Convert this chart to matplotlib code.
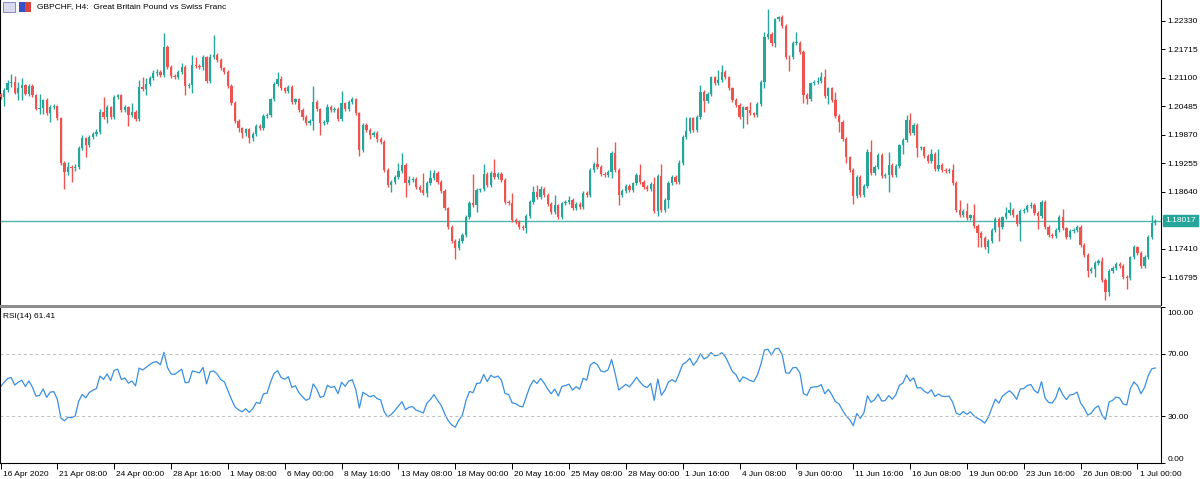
import numpy as np
import matplotlib
matplotlib.use("Agg")
import matplotlib.pyplot as plt
from matplotlib.patches import Rectangle
import matplotlib.transforms as mtransforms

# ---------------- data (GBPCHF H4) ----------------
first_open = 1.2074
closes = [
    1.20675, 1.20833, 1.20977, 1.21013, 1.20776, 1.20869, 1.20934, 1.20747, 1.20920, 1.20726,
    1.20417, 1.20438, 1.20618, 1.20330, 1.20474, 1.20489, 1.20222, 1.19266, 1.19072, 1.19166,
    1.19144, 1.19180, 1.19575, 1.19791, 1.19647, 1.19813, 1.19885, 1.19935, 1.20359, 1.20258,
    1.20460, 1.20258, 1.20675, 1.20718, 1.20402, 1.20460, 1.20294, 1.20366, 1.20215, 1.20905,
    1.20848, 1.20963, 1.21092, 1.21193, 1.21222, 1.21150, 1.21755, 1.21337, 1.21136, 1.21121,
    1.21229, 1.21337, 1.20920, 1.20941, 1.21381, 1.21352, 1.21323, 1.21539, 1.21035, 1.21553,
    1.21582, 1.21482, 1.21301, 1.21229, 1.20920, 1.20560, 1.20172, 1.20007, 1.19899, 1.19985,
    1.19791, 1.19885, 1.20057, 1.20007, 1.20273, 1.20294, 1.20632, 1.20963, 1.21071, 1.20869,
    1.20819, 1.20905, 1.20582, 1.20632, 1.20402, 1.20258, 1.20129, 1.20172, 1.20582, 1.20417,
    1.20114, 1.20150, 1.20474, 1.20402, 1.20431, 1.20201, 1.20546, 1.20417, 1.20582, 1.20632,
    1.20330, 1.19539, 1.20078, 1.19971, 1.19863, 1.19913, 1.19770, 1.19719, 1.19108, 1.18784,
    1.18856, 1.18964, 1.19094, 1.19216, 1.18820, 1.18892, 1.18907, 1.18734, 1.18676, 1.18605,
    1.18835, 1.18928, 1.19051, 1.18856, 1.18662, 1.18280, 1.17885, 1.17583, 1.17417, 1.17583,
    1.17705, 1.18100, 1.18402, 1.18352, 1.18676, 1.18690, 1.19021, 1.18784, 1.19036, 1.18964,
    1.19021, 1.18892, 1.18424, 1.18388, 1.18028, 1.17992, 1.17885, 1.17849, 1.18115, 1.18424,
    1.18633, 1.18532, 1.18705, 1.18569, 1.18374, 1.18208, 1.18345, 1.18100, 1.18388, 1.18417,
    1.18460, 1.18280, 1.18374, 1.18302, 1.18619, 1.18569, 1.19108, 1.19238, 1.19180, 1.19021,
    1.19000, 1.19072, 1.19468, 1.19108, 1.18569, 1.18662, 1.18763, 1.18676, 1.18820, 1.19000,
    1.18856, 1.18734, 1.18690, 1.18806, 1.18230, 1.18978, 1.18244, 1.18460, 1.18835, 1.18950,
    1.18856, 1.19266, 1.19813, 1.19957, 1.20222, 1.19971, 1.20258, 1.20798, 1.20604, 1.20747,
    1.21107, 1.20992, 1.21049, 1.21222, 1.21107, 1.20869, 1.20618, 1.20510, 1.20244, 1.20460,
    1.20402, 1.20330, 1.20294, 1.20532, 1.21013, 1.21971, 1.22043, 1.21856, 1.22359, 1.22402,
    1.22215, 1.21553, 1.21539, 1.21842, 1.21856, 1.21661, 1.20726, 1.20632, 1.20977, 1.21013,
    1.21020, 1.21107, 1.20704, 1.20869, 1.20618, 1.20273, 1.20150, 1.19770, 1.19381, 1.19108,
    1.18547, 1.18964, 1.18569, 1.18763, 1.19496, 1.19051, 1.19166, 1.19432, 1.18978, 1.19000,
    1.19216, 1.19000, 1.19195, 1.19640, 1.19755, 1.20186, 1.19899, 1.20078, 1.19575, 1.19597,
    1.19410, 1.19309, 1.19453, 1.19122, 1.19216, 1.19108, 1.19094, 1.19108, 1.18835, 1.18244,
    1.18136, 1.18230, 1.18064, 1.18129, 1.17900, 1.17756, 1.17641, 1.17454, 1.17583, 1.17813,
    1.18057, 1.17885, 1.18086, 1.18172, 1.18244, 1.18129, 1.17942, 1.18230, 1.18244, 1.18331,
    1.18359, 1.18187, 1.18115, 1.18417, 1.17885, 1.17705, 1.17683, 1.17813, 1.18100, 1.17849,
    1.17669, 1.17798, 1.17813, 1.17871, 1.17490, 1.17274, 1.16936, 1.16979, 1.17094, 1.17151,
    1.16734, 1.16482, 1.16936, 1.16986, 1.17080, 1.17036, 1.16806, 1.16770, 1.17223, 1.17439,
    1.17324, 1.17036, 1.17237, 1.17655, 1.17971, 1.18017,
]
# wick lengths beyond the candle body, in pips (0.0001)
wick_up_pips = [
    2, 4, 7, 17, 12, 14, 15, 4, 5, 4,   2, 30, 2, 4, 4, 5, 3, 3, 3, 12,
    5, 5, 5, 7, 4, 4, 4, 5, 6, 33,      5, 4, 5, 4, 4, 5, 4, 18, 4, 14,
    20, 14, 5, 7, 6, 4, 30, 5, 4, 4,    4, 7, 4, 4, 21, 17, 4, 6, 4, 5,
    44, 6, 5, 4, 4, 4, 4, 4, 4, 4,      4, 5, 4, 4, 4, 4, 4, 4, 16, 7,
    4, 4, 4, 4, 4, 4, 4, 4, 34, 4,      4, 4, 5, 4, 4, 4, 27, 4, 4, 6,
    4, 4, 4, 4, 5, 4, 4, 4, 4, 4,       4, 4, 16, 27, 4, 9, 5, 4, 5, 36,
    4, 17, 5, 4, 4, 4, 4, 4, 4, 5,      4, 4, 4, 63, 4, 4, 21, 4, 5, 30,
    4, 4, 4, 4, 23, 4, 4, 4, 4, 4,      12, 15, 5, 4, 4, 4, 22, 4, 4, 4,
    9, 4, 4, 4, 4, 4, 4, 4, 37, 4,      4, 4, 4, 25, 4, 4, 4, 4, 4, 4,
    23, 4, 4, 4, 16, 4, 26, 4, 4, 4,   4, 6, 4, 29, 4, 4, 4, 14, 4, 4,
    4, 4, 22, 15, 4, 4, 4, 4, 4, 4,     4, 18, 4, 4, 4, 12, 55, 4, 4, 4,
    5, 4, 4, 4, 24, 4, 4, 4, 4, 4,      9, 12, 19, 4, 4, 18, 4, 4, 4, 4,
    4, 4, 4, 4, 6, 27, 4, 4, 4, 4,      29, 4, 4, 4, 4, 11, 16, 4, 4, 4,
    4, 4, 10, 4, 34, 4, 4, 4, 13, 4,    22, 4, 16, 4, 24, 4, 4, 4, 4, 4,
    4, 4, 4, 14, 18, 4, 4, 4, 4, 4,     6, 4, 4, 4, 4, 4, 4, 4, 4, 16,
    4, 4, 4, 4, 4, 4, 4, 4, 4, 4,       9, 4, 4, 4, 4, 4, 4, 4, 4, 5,
    4, 4, 4, 4, 17, 4,
]
wick_dn_pips = [
    4, 19, 4, 7, 3, 16, 25, 2, 5, 5,    2, 9, 12, 3, 18, 5, 4, 4, 38, 7,
    29, 5, 6, 3, 25, 4, 4, 5, 4, 4,     13, 4, 4, 4, 5, 5, 24, 5, 4, 4,
    4, 12, 5, 5, 5, 4, 4, 5, 5, 4,      4, 4, 19, 4, 18, 5, 4, 5, 5, 5,
    4, 4, 4, 4, 5, 5, 6, 8, 10, 6,      10, 5, 4, 4, 4, 4, 4, 4, 4, 4,
    5, 4, 4, 5, 4, 6, 4, 4, 20, 4,      25, 4, 4, 4, 4, 4, 4, 4, 4, 4,
    4, 12, 4, 4, 8, 4, 6, 4, 5, 5,      14, 4, 4, 4, 30, 4, 4, 4, 4, 4,
    9, 4, 4, 4, 4, 4, 4, 4, 22, 4,      4, 4, 4, 4, 14, 4, 4, 4, 4, 4,
    4, 4, 4, 4, 4, 4, 4, 4, 11, 4,      4, 4, 4, 4, 4, 4, 4, 4, 4, 4,
    4, 4, 4, 4, 4, 4, 4, 4, 4, 4,       4, 4, 14, 4, 22, 4, 4, 4, 4, 4,
    4, 4, 4, 4, 4, 12, 4, 4, 18, 4,     4, 4, 4, 4, 4, 4, 4, 4, 24, 4,
    4, 4, 4, 4, 4, 4, 4, 4, 4, 24,      30, 4, 4, 4, 4, 14, 4, 7, 9, 4,
    4, 4, 29, 4, 4, 4, 18, 10, 4, 4,    4, 4, 4, 17, 4, 4, 22, 4, 13, 4,
    17, 4, 4, 4, 4, 4, 4, 4, 4, 4,      36, 4, 4, 4, 19, 4, 4, 4, 18, 4,
    4, 4, 4, 4, 4, 4, 4, 4, 4, 4,       4, 4, 4, 4, 4, 30, 19, 4, 13, 4,
    4, 30, 4, 4, 4, 4, 4, 36, 4, 4,     4, 4, 29, 4, 4, 4, 4, 4, 4, 4,
    4, 4, 4, 4, 4, 4, 13, 4, 19, 4,     4, 18, 9, 4, 4, 4, 4, 22, 4, 4,
    4, 4, 4, 4, 4, 4,
]
date_labels = ["16 Apr 2020", "21 Apr 08:00", "24 Apr 00:00", "28 Apr 16:00", "1 May 08:00",
               "6 May 00:00", "8 May 16:00", "13 May 08:00", "18 May 00:00", "20 May 16:00",
               "25 May 08:00", "28 May 00:00", "1 Jun 16:00", "4 Jun 08:00", "9 Jun 00:00",
               "11 Jun 16:00", "16 Jun 08:00", "19 Jun 00:00", "23 Jun 16:00", "26 Jun 08:00",
               "1 Jul 00:00"]
bars_per_label = 16
price_ticks = [1.22330, 1.21715, 1.21100, 1.20485, 1.19870, 1.19255, 1.18640, 1.17410, 1.16795]
current_price = 1.18017
rsi_period = 14
rsi_seed_gain = 0.0011
rsi_seed_loss = 0.0011
rsi_levels = [30, 70]
rsi_ticks = [0, 30, 70, 100]
rsi_value_text = "61.41"
title_text = "GBPCHF, H4:  Great Britain Pound vs Swiss Franc"

# ---------------- derived ----------------
c = np.array(closes)
n = len(c)
o = np.concatenate([[first_open], c[:-1]])
hi = np.maximum(o, c) + np.array(wick_up_pips) * 1e-4
lo = np.minimum(o, c) - np.array(wick_dn_pips) * 1e-4
x = np.arange(n)

d = c - o
ag, al = rsi_seed_gain, rsi_seed_loss
rsi = []
for v in d:
    ag = (ag * (rsi_period - 1) + max(v, 0)) / rsi_period
    al = (al * (rsi_period - 1) + max(-v, 0)) / rsi_period
    rsi.append(100 - 100 / (1 + ag / al) if al > 0 else 100)
rsi = np.array(rsi)

# ---------------- style ----------------
plt.rcParams["font.family"] = ["Liberation Sans", "DejaVu Sans"]
plt.rcParams["font.size"] = 6
BULL = "#26a69a"
BEAR = "#ef5350"
W, H = 1200, 479
fig = plt.figure(figsize=(W / 100, H / 100), dpi=100)
fig.patch.set_facecolor("white")

def fr(px0, py0, px1, py1):
    return [px0 / W, 1 - py1 / H, (px1 - px0) / W, (py1 - py0) / H]

ax = fig.add_axes(fr(0, 0, 1161, 305))
ax2 = fig.add_axes(fr(0, 307, 1161, 463))

px_per_bar = 3.553
x_left = -0.5 / px_per_bar
x_right = x_left + 1161 / px_per_bar
for a in (ax, ax2):
    a.set_xlim(x_left, x_right)
    a.set_facecolor("white")

# price panel
ax.set_ylim(1.16195, 1.22777)
cols = [BULL if cc >= oo else BEAR for oo, cc in zip(o, c)]
ax.vlines(x, lo, hi, colors=cols, linewidth=1.0, zorder=2)
body_b = np.minimum(o, c)
body_h = np.maximum(np.abs(c - o), 0.00018)
ax.bar(x, body_h, bottom=body_b, width=0.64, color=cols, linewidth=0, zorder=3)
ax.axhline(current_price, color="#4db6ac", linewidth=1.0, zorder=1)

ax.yaxis.tick_right()
ax.set_yticks(price_ticks)
ax.set_yticklabels([f"{p:.5f}" for p in price_ticks])
ax.tick_params(axis="y", direction="out", length=3, width=0.7, pad=1.5, labelsize=6)
ax.tick_params(axis="x", bottom=False, labelbottom=False)
for s in ("top", "bottom"):
    ax.spines[s].set_visible(False)
for s in ("left", "right"):
    ax.spines[s].set_color("black")
    ax.spines[s].set_linewidth(0.8)

ax.annotate(f"{current_price:.5f}", xy=(1.0, current_price), xycoords=("axes fraction", "data"),
            xytext=(3, 0), textcoords="offset points", ha="left", va="center",
            color="white", fontsize=6,
            bbox=dict(boxstyle="square,pad=0.25", fc="#26a69a", ec="#26a69a"))

ax.text(37 / 1161, 1 - 7 / 305, title_text, transform=ax.transAxes, ha="left", va="center", fontsize=6)
# small window icons at the top-left
fig.patches.append(Rectangle((3 / W, 1 - 12 / H), 12 / W, 10 / H, transform=fig.transFigure,
                             fc="#d9d9ef", ec="#7a7ab8", lw=0.6))
fig.patches.append(Rectangle((19 / W, 1 - 12 / H), 6 / W, 10 / H, transform=fig.transFigure,
                             fc="#3b4fc4", ec="none"))
fig.patches.append(Rectangle((25 / W, 1 - 12 / H), 6 / W, 10 / H, transform=fig.transFigure,
                             fc="#d9453d", ec="none"))

# separator bar between panels
fig.patches.append(Rectangle((0, 1 - 308 / H), 1161 / W, 3 / H, transform=fig.transFigure,
                             fc="#8c8c8c", ec="none"))

# RSI panel
ax2.set_ylim(0, 100)
ax2.plot(x, rsi, color="#3a8fe0", linewidth=0.9)
for lv in rsi_levels:
    ax2.axhline(lv, color="#bdbdbd", linewidth=0.7, linestyle=(0, (3, 3)))
ax2.yaxis.tick_right()
ax2.set_yticks(rsi_ticks)
ax2.set_yticklabels([f"{t:.2f}" for t in rsi_ticks])
ax2.tick_params(axis="y", direction="out", length=3, width=0.7, pad=1.5, labelsize=6)
ylabs = ax2.get_yticklabels()
ylabs[0].set_va("bottom")
ylabs[-1].set_va("top")
down = mtransforms.ScaledTranslation(0, -2.5 / 72, fig.dpi_scale_trans)
ylabs[-1].set_transform(ylabs[-1].get_transform() + down)
ax2.spines["top"].set_visible(False)
for s in ("left", "right", "bottom"):
    ax2.spines[s].set_color("black")
    ax2.spines[s].set_linewidth(0.8)
ax2.text(3 / 1161, 1 - 9 / 156, f"RSI({rsi_period}) {rsi_value_text}", transform=ax2.transAxes,
         ha="left", va="center", fontsize=6)

ticks_x = np.arange(len(date_labels)) * bars_per_label
ax2.set_xticks(ticks_x)
ax2.set_xticklabels(date_labels)
ax2.tick_params(axis="x", direction="out", length=4, width=0.7, pad=1.5, labelsize=6)
offset = mtransforms.ScaledTranslation(1.5 / 72, 0, fig.dpi_scale_trans)
for lab in ax2.get_xticklabels():
    lab.set_ha("left")
    lab.set_transform(lab.get_transform() + offset)

fig.savefig("out.png", dpi=100, facecolor="white")
